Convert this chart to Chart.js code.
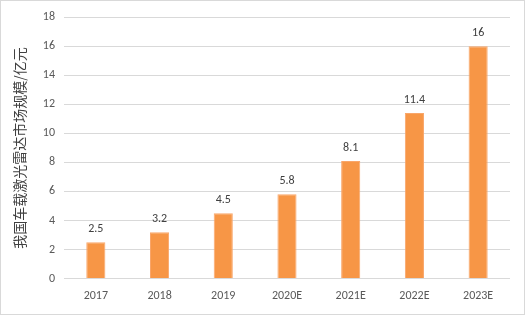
<!DOCTYPE html>
<html>
<head>
<meta charset="utf-8">
<script src="https://cdn.jsdelivr.net/npm/chart.js@4"></script>
<style>
  html, body { margin: 0; padding: 0; background: #fff; }
  #wrap { position: relative; width: 523px; height: 313px; border: 1px solid #d9d9d9; }
</style>
</head>
<body>
<div id="wrap"><canvas id="lidarChart"></canvas></div>
<script>
// 我国车载激光雷达市场规模
const years = ['2017', '2018', '2019', '2020E', '2021E', '2022E', '2023E'];
const marketSize = [2.5, 3.2, 4.5, 5.8, 8.1, 11.4, 16];
const yTicks = [0, 2, 4, 6, 8, 10, 12, 14, 16, 18];

const cnFont = '"Microsoft YaHei", "Noto Sans CJK SC", sans-serif';
const numFont = 'Carlito, "Liberation Sans", "DejaVu Sans", sans-serif';

// values above bars
const barLabels = {
  id: 'barLabels',
  afterDatasetsDraw(chart) {
    const c = chart.ctx;
    const meta = chart.getDatasetMeta(0);
    c.save();
    c.font = '12px ' + numFont;
    c.fillStyle = '#404040';
    c.textAlign = 'center';
    c.textBaseline = 'bottom';
    meta.data.forEach((bar, i) => {
      c.fillText(String(marketSize[i]), bar.x, bar.y - 7);
    });
    c.restore();
  }
};

const ctx = document.getElementById('lidarChart').getContext('2d');
new Chart(ctx, {
  type: 'bar',
  data: {
    labels: years,
    datasets: [{
      data: marketSize,
      backgroundColor: '#F79646',
      borderColor: '#F9A66A',
      borderWidth: 1,
      barPercentage: 0.6,
      categoryPercentage: 0.5
    }]
  },
  options: {
    responsive: true,
    maintainAspectRatio: false,
    animation: false,
    layout: { padding: { left: 6, right: 14, top: 11, bottom: 9 } },
    plugins: {
      legend: { display: false },
      tooltip: { enabled: false }
    },
    scales: {
      x: {
        grid: { display: false },
        border: { display: false },
        ticks: { color: '#595959', font: { family: numFont, size: 12 }, padding: 2 }
      },
      y: {
        min: 0,
        max: 18,
        afterBuildTicks: (axis) => { axis.ticks = yTicks.map(v => ({ value: v })); },
        grid: { color: '#d9d9d9', drawTicks: false },
        border: { display: false },
        ticks: { color: '#595959', font: { family: numFont, size: 12 }, padding: 9 },
        title: {
          display: true,
          text: '我国车载激光雷达市场规模/亿元',
          color: '#404040',
          font: { family: cnFont, size: 14 },
          padding: { bottom: 6 }
        }
      }
    }
  },
  plugins: [barLabels]
});
</script>
</body>
</html>
